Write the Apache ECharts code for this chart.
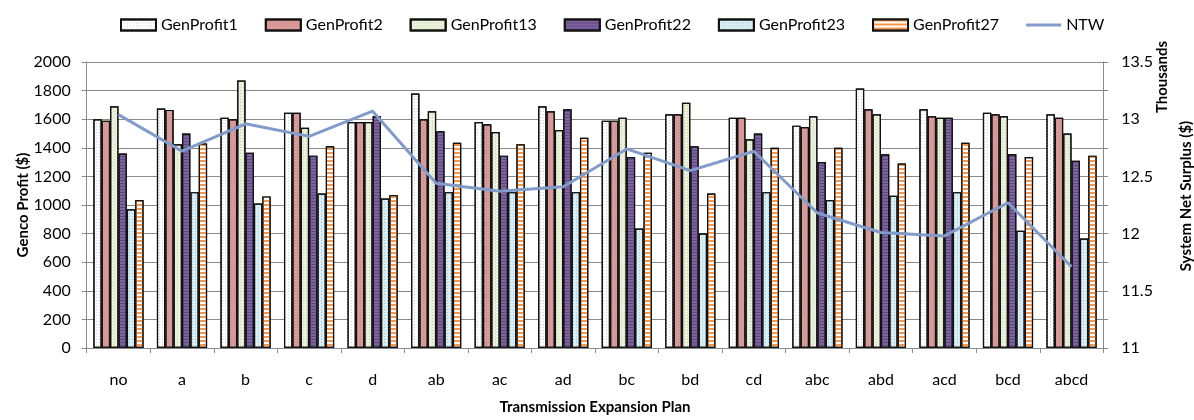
<!DOCTYPE html>
<html>
<head>
<meta charset="utf-8">
<script src="https://cdn.jsdelivr.net/npm/echarts@6/dist/echarts.min.js"></script>
<style>
  html, body { margin: 0; padding: 0; background: #ffffff; }
  #chart { width: 1194px; height: 420px; }
</style>
</head>
<body>
<div id="chart"></div>
<script>
// Transmission expansion plans on the category axis
const plans = ['no', 'a', 'b', 'c', 'd', 'ab', 'ac', 'ad', 'bc', 'bd', 'cd', 'abc', 'abd', 'acd', 'bcd', 'abcd'];

// Genco profits ($), one array per generator
const genProfit1  = [1600, 1675, 1610, 1645, 1580, 1780, 1580, 1690, 1590, 1635, 1610, 1555, 1815, 1670, 1645, 1635];
const genProfit2  = [1590, 1665, 1600, 1645, 1580, 1600, 1565, 1655, 1590, 1635, 1610, 1545, 1670, 1620, 1635, 1610];
const genProfit13 = [1690, 1425, 1870, 1540, 1580, 1655, 1510, 1525, 1610, 1715, 1460, 1620, 1635, 1610, 1620, 1500];
const genProfit22 = [1360, 1500, 1365, 1345, 1620, 1515, 1345, 1670, 1335, 1410, 1500, 1300, 1355, 1610, 1355, 1310];
const genProfit23 = [970, 1090, 1010, 1080, 1045, 1090, 1090, 1090, 835, 800, 1090, 1035, 1065, 1090, 820, 765];
const genProfit27 = [1035, 1430, 1060, 1410, 1070, 1435, 1425, 1470, 1365, 1080, 1400, 1400, 1290, 1435, 1335, 1345];

// System net surplus, in thousands of $
const ntw = [13.04, 12.72, 12.96, 12.85, 13.07, 12.44, 12.37, 12.41, 12.74, 12.55, 12.72, 12.18, 12.01, 11.98, 12.27, 11.71];

const FONT = 'Lato';
const GRID_COLOR = '#8a8a8a';

function barSeries(name, data, fill, decal) {
  return {
    name: name,
    type: 'bar',
    yAxisIndex: 0,
    data: data,
    barGap: '0%',
    barCategoryGap: '21%',
    itemStyle: {
      color: fill,
      borderColor: '#111111',
      borderWidth: 1.2,
      decal: decal
    }
  };
}

const dots = (color) => ({
  symbol: 'rect', symbolSize: 1, color: color,
  dashArrayX: [1, 2], dashArrayY: [1, 2], rotation: 0
});
const stripes = (color, on, off) => ({
  symbol: 'rect', symbolSize: 1, color: color,
  dashArrayX: [1, 0], dashArrayY: [on, off], rotation: 0
});

// Legend key for the surplus line: a thin bar, with two hair-sized corner marks fixing the box
const lineKey = 'path://M0,0 L0.01,0 L0.01,0.01 Z M0,4 L35,4 L35,7 L0,7 Z M35,11 L35.01,11 L35.01,10.99 Z';

const chart = echarts.init(document.getElementById('chart'), null, { renderer: 'canvas' });

chart.setOption({
  backgroundColor: '#ffffff',
  animation: false,
  textStyle: { fontFamily: FONT, color: '#000000' },
  legend: {
    top: 12,
    left: 115,
    icon: 'rect',
    itemWidth: 35,
    itemHeight: 11,
    itemGap: 27,
    textStyle: { fontFamily: FONT, fontSize: 16, color: '#000000' },
    data: ['GenProfit1', 'GenProfit2', 'GenProfit13', 'GenProfit22', 'GenProfit23', 'GenProfit27',
           { name: 'NTW', icon: lineKey }]
  },
  grid: { left: 86.7, right: 90.7, top: 62, bottom: 70, containLabel: false },
  xAxis: {
    type: 'category',
    data: plans,
    boundaryGap: true,
    name: 'Transmission Expansion Plan',
    nameLocation: 'middle',
    nameGap: 52,
    nameMoveOverlap: false,
    nameTextStyle: { fontFamily: FONT, fontSize: 15, fontWeight: 'bold', color: '#000000' },
    axisLine: { lineStyle: { color: GRID_COLOR, width: 1 } },
    axisTick: { show: true, interval: 0, length: 5, lineStyle: { color: GRID_COLOR } },
    axisLabel: { margin: 24, fontFamily: FONT, fontSize: 16, color: '#000000', interval: 0 }
  },
  yAxis: [
    {
      type: 'value',
      min: 0,
      max: 2000,
      interval: 200,
      name: 'Genco Profit ($)',
      nameLocation: 'middle',
      nameGap: 56,
      nameMoveOverlap: false,
      nameRotate: 90,
      nameTextStyle: { fontFamily: FONT, fontSize: 15, fontWeight: 'bold', color: '#000000' },
      axisLine: { show: true, lineStyle: { color: GRID_COLOR, width: 1 } },
      axisTick: { show: true, length: 5, lineStyle: { color: GRID_COLOR } },
      axisLabel: { margin: 16, fontFamily: FONT, fontSize: 16, color: '#000000', formatter: (v) => String(v) },
      splitLine: { show: true, lineStyle: { color: GRID_COLOR, width: 1 } }
    },
    {
      type: 'value',
      position: 'right',
      min: 11,
      max: 13.5,
      interval: 0.25,
      axisLine: { show: true, lineStyle: { color: GRID_COLOR, width: 1 } },
      axisTick: { show: true, length: 5, lineStyle: { color: GRID_COLOR } },
      axisLabel: {
        margin: 18, fontFamily: FONT, fontSize: 16, color: '#000000',
        formatter: (v) => (Math.round(v * 100) % 50 === 0 ? String(Math.round(v * 10) / 10) : '')
      },
      splitLine: { show: false }
    }
  ],
  graphic: [
    {
      type: 'text',
      x: 1186, y: 196, rotation: Math.PI / 2,
      style: {
        text: 'System Net Surplus ($)', fontFamily: FONT, fontSize: 15, fontWeight: 'bold',
        fill: '#000000', align: 'center', verticalAlign: 'middle'
      }
    },
    {
      type: 'text',
      x: 1162, y: 77, rotation: Math.PI / 2,
      style: {
        text: 'Thousands', fontFamily: FONT, fontSize: 15, fontWeight: 'bold',
        fill: '#000000', align: 'center', verticalAlign: 'middle'
      }
    }
  ],
  series: [
    barSeries('GenProfit1', genProfit1, '#ffffff', dots('#c9d3e6')),
    barSeries('GenProfit2', genProfit2, '#d99b99', dots('#c98a88')),
    barSeries('GenProfit13', genProfit13, '#ebf1de', dots('#c3d69b')),
    barSeries('GenProfit22', genProfit22, '#8064a2', stripes('#5e4680', 1, 2)),
    barSeries('GenProfit23', genProfit23, '#daeef3', dots('#93cddd')),
    barSeries('GenProfit27', genProfit27, '#ffffff', stripes('#f79646', 1.5, 1.5)),
    {
      name: 'NTW',
      type: 'line',
      yAxisIndex: 1,
      data: ntw,
      symbol: 'none',
      showSymbol: false,
      z: 5,
      lineStyle: { color: '#819bcb', width: 3 },
      itemStyle: { color: '#819bcb' }
    }
  ]
});
</script>
</body>
</html>
